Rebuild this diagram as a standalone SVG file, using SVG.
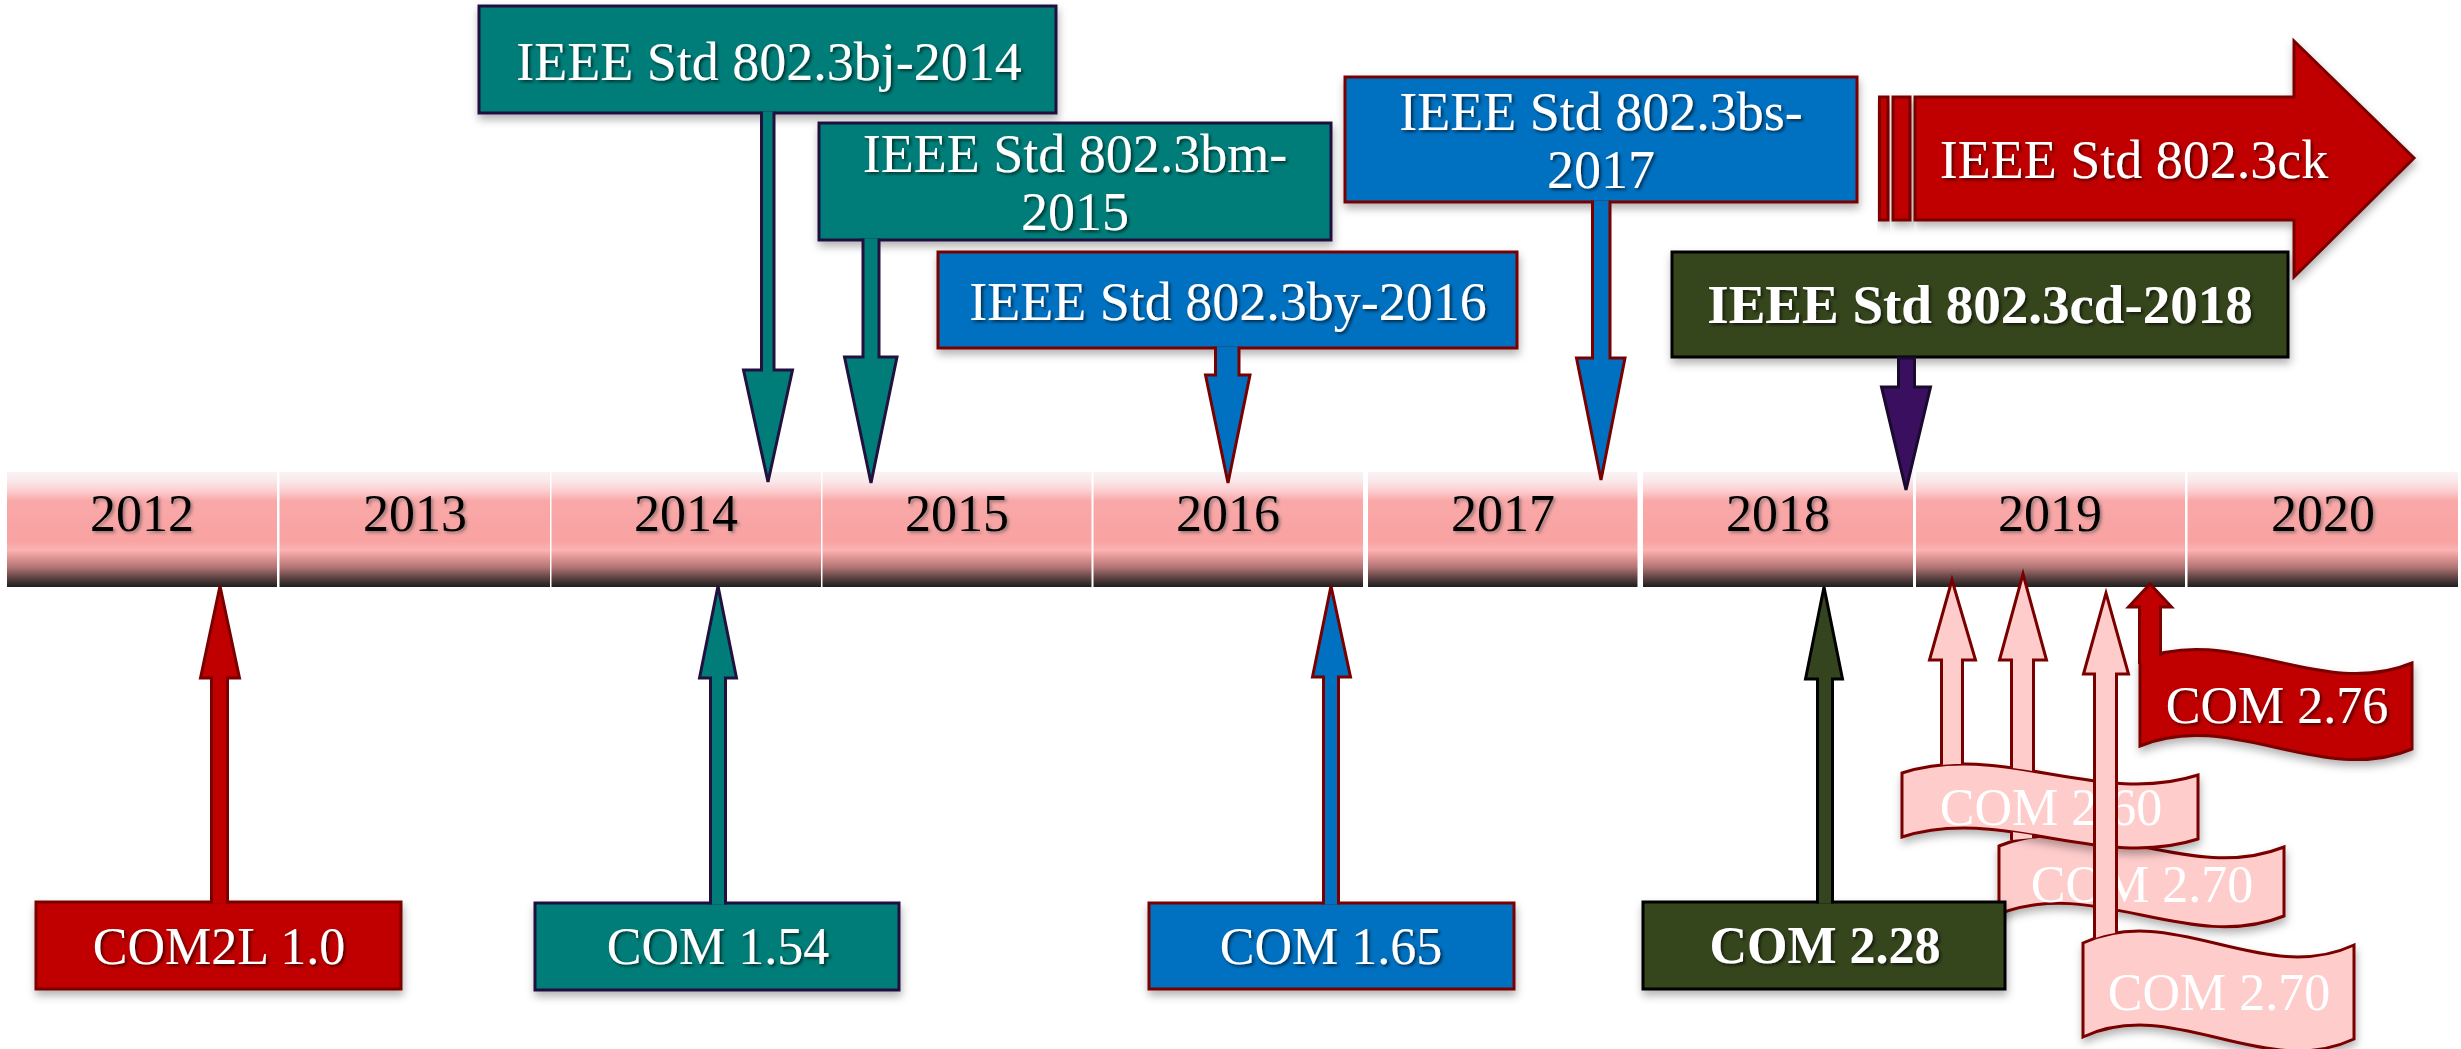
<svg xmlns="http://www.w3.org/2000/svg" width="2461" height="1049" viewBox="0 0 2461 1049">
<defs>
<linearGradient id="barg" x1="0" y1="0" x2="0" y2="1">
<stop offset="0" stop-color="#fbf2f4"/>
<stop offset="0.07" stop-color="#faeaec"/>
<stop offset="0.16" stop-color="#fcd0d2"/>
<stop offset="0.25" stop-color="#f9a8a8"/>
<stop offset="0.6" stop-color="#f9a2a2"/>
<stop offset="0.68" stop-color="#fbb3b3"/>
<stop offset="0.73" stop-color="#e89a9a"/>
<stop offset="0.83" stop-color="#b07474"/>
<stop offset="0.92" stop-color="#5e4242"/>
<stop offset="1" stop-color="#1f1f1f"/>
</linearGradient>
<filter id="sh" x="-20%" y="-20%" width="140%" height="150%">
<feDropShadow dx="1" dy="5" stdDeviation="4" flood-color="#000" flood-opacity="0.3"/>
</filter>
<filter id="ts" x="-5%" y="-20%" width="110%" height="150%">
<feDropShadow dx="2" dy="2" stdDeviation="1.5" flood-color="#000" flood-opacity="0.6"/>
</filter>
<filter id="ys" x="-5%" y="-20%" width="110%" height="150%">
<feDropShadow dx="2" dy="2" stdDeviation="1.5" flood-color="#444" flood-opacity="0.5"/>
</filter>
<clipPath id="cut260">
<path clip-rule="evenodd" d="M0,0 H2461 V1049 H0 Z M1902,773 C2000.7,741 2099.3,807 2198,775 L2198,839 C2099.3,871 2000.7,805 1902,837 Z"/>
</clipPath>
<clipPath id="cut270b">
<path clip-rule="evenodd" d="M0,0 H2461 V1049 H0 Z M2083,943 C2173.3,901 2263.7,987 2354,945 L2354,1039 C2263.7,1081 2173.3,995 2083,1037 Z"/>
</clipPath>
</defs>
<style>
.teal{fill:#007d78;stroke:#22103f;stroke-width:3}
.red{fill:#c00000;stroke:#7a0000;stroke-width:3}
.blue{fill:#0070c0;stroke:#7a0000;stroke-width:3}
.olive{fill:#34441f;stroke:#000;stroke-width:3}
.pink{fill:#ffcccc;stroke:#7a0000;stroke-width:3}
.purple{fill:#3a0f60;stroke:#1a0a2e;stroke-width:3}
.seg{fill:url(#barg)}
.shadow{filter:url(#sh)}
text{font-family:"Liberation Serif","Times New Roman",serif;text-anchor:middle}
.lt{font-size:54px;fill:#fff;filter:url(#ts)}
.lb{font-size:52px;fill:#fff;filter:url(#ts)}
.bold{font-weight:bold}
.yr{font-size:52px;fill:#000;filter:url(#ys)}
.pt{font-size:52px;fill:#fff}
</style>
<rect width="2461" height="1049" fill="#fff"/>

<g id="timeline">
<rect class="seg" x="7" y="472" width="270" height="115"/>
<rect class="seg" x="279.5" y="472" width="270.5" height="115"/>
<rect class="seg" x="551.5" y="472" width="269.5" height="115"/>
<rect class="seg" x="822.5" y="472" width="269" height="115"/>
<rect class="seg" x="1093.5" y="472" width="269.5" height="115"/>
<rect class="seg" x="1368" y="472" width="269.5" height="115"/>
<rect class="seg" x="1643" y="472" width="270" height="115"/>
<rect class="seg" x="1916" y="472" width="269" height="115"/>
<rect class="seg" x="2187.5" y="472" width="270.5" height="115"/>
<text class="yr" x="142" y="531">2012</text>
<text class="yr" x="415" y="531">2013</text>
<text class="yr" x="686" y="531">2014</text>
<text class="yr" x="957" y="531">2015</text>
<text class="yr" x="1228" y="531">2016</text>
<text class="yr" x="1503" y="531">2017</text>
<text class="yr" x="1778" y="531">2018</text>
<text class="yr" x="2050" y="531">2019</text>
<text class="yr" x="2323" y="531">2020</text>
</g>

<g id="std-bj">
<rect class="teal shadow" x="479" y="6" width="577" height="107"/>
<text class="lt" x="769" y="80">IEEE Std 802.3bj-2014</text>
</g>
<g id="std-bm">
<rect class="teal shadow" x="819" y="123" width="512" height="117"/>
<text class="lt" x="1075" y="172">IEEE Std 802.3bm-</text>
<text class="lt" x="1075" y="230">2015</text>
</g>
<g id="std-by">
<rect class="blue shadow" x="938" y="252" width="579" height="96"/>
<text class="lt" x="1228" y="320">IEEE Std 802.3by-2016</text>
</g>
<g id="std-bs">
<rect class="blue shadow" x="1345" y="77" width="512" height="125"/>
<text class="lt" x="1601" y="130">IEEE Std 802.3bs-</text>
<text class="lt" x="1601" y="188">2017</text>
</g>
<g id="std-ck">
<rect class="red shadow" x="1879.5" y="97" width="8.5" height="123"/>
<rect class="red shadow" x="1893" y="97" width="17" height="123"/>
<path class="red shadow" d="M1915,97 H2294 V41 L2414,158 L2294,277 V220 H1915 Z"/>
<text class="lt" x="2134" y="178">IEEE Std 802.3ck</text>
</g>
<g id="std-cd">
<rect class="olive shadow" x="1672" y="252" width="616" height="105"/>
<text class="lt bold" style="font-size:55px" x="1980" y="323">IEEE Std 802.3cd-2018</text>
</g>

<g id="com2l-1-0">
<rect class="red shadow" x="36" y="902" width="365" height="87"/>
<text class="lb" x="219" y="964">COM2L 1.0</text>
</g>
<g id="com-1-54">
<rect class="teal shadow" x="535" y="903" width="364" height="87"/>
<text class="lb" x="718" y="964">COM 1.54</text>
</g>
<g id="com-1-65">
<rect class="blue shadow" x="1149" y="903" width="365" height="86"/>
<text class="lb" x="1331" y="964">COM 1.65</text>
</g>

<g id="com-2-70-a">
<path class="pink shadow" d="M1999,846 C2094,808 2189,885 2284,847 L2284,916 C2189,954 2094,876 1999,914 Z"/>
<text class="pt" x="2142" y="902">COM 2.70</text>
</g>
<g id="com-2-60">
<path class="pink shadow" d="M1902,773 C2000.7,741 2099.3,807 2198,775 L2198,839 C2099.3,871 2000.7,805 1902,837 Z"/>
<text class="pt" x="2051" y="825">COM 2.60</text>
</g>
<g id="com-2-70-b">
<path class="pink shadow" d="M2083,943 C2173.3,901 2263.7,987 2354,945 L2354,1039 C2263.7,1081 2173.3,995 2083,1037 Z"/>
<text class="pt" x="2219" y="1010">COM 2.70</text>
</g>
<g id="com-2-76">
<path class="red shadow" d="M2140,660 C2230.7,622 2321.3,701 2412,663 L2412,749 C2321.3,787 2230.7,708 2140,746 Z"/>
<text class="lb" x="2277" y="723">COM 2.76</text>
</g>
<g id="com-2-28">
<rect class="olive shadow" x="1643" y="902" width="362" height="87"/>
<text class="lb bold" x="1825" y="963">COM 2.28</text>
</g>

<g id="connectors">
<path class="teal" d="M761.5,111.5 V370 H743.5 L768,482 L792.5,370 H774 V111.5"/>
<path class="teal" d="M863,238.5 V357 H844.5 L871,483 L897,357 H879 V238.5"/>
<path class="blue" d="M1215.5,346.5 V375 H1205.5 L1228,483 L1250,375 H1239 V346.5"/>
<path class="blue" d="M1592.5,200.5 V358 H1576.5 L1601,480 L1625,358 H1610 V200.5"/>
<path class="purple" d="M1898.5,358 V387 H1881.5 L1906,490 L1930.5,387 H1914.5 V358 Z"/>
<path class="red" d="M211.5,903.5 V678 H200.5 L220,586 L239.5,678 H227.5 V903.5"/>
<path class="teal" d="M710.5,904.5 V678 H699.5 L718,586 L736.5,678 H725.5 V904.5"/>
<path class="blue" d="M1323.5,904.5 V677 H1312.5 L1331,586 L1350.5,677 H1338.5 V904.5"/>
<path class="olive" d="M1817.5,903.5 V679 H1805.5 L1824,587 L1842.5,679 H1832.5 V903.5"/>
<path class="pink" clip-path="url(#cut260)" d="M1941.5,780 V660 H1929.5 L1952,580 L1975.5,660 H1962.5 V780"/>
<path class="pink" clip-path="url(#cut260)" d="M2011.5,840 V660 H1999.5 L2023,574 L2046.5,660 H2033.5 V838"/>
<path class="pink" clip-path="url(#cut270b)" d="M2094.5,950 V674 H2083.5 L2106,593 L2128.5,674 H2116.5 V950"/>
<path class="red" d="M2139.5,664 V607 H2128.5 L2150,584 L2171.5,607 H2160.5 V656"/>
</g>
</svg>
